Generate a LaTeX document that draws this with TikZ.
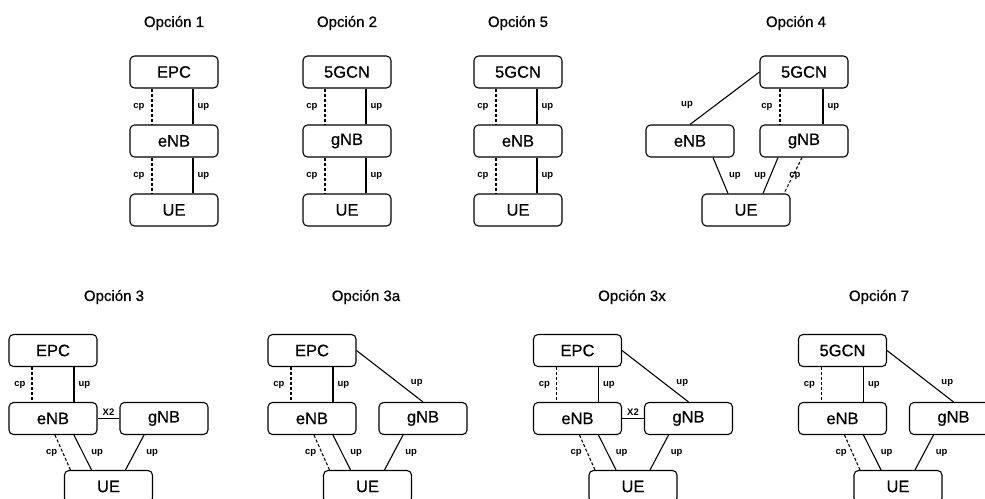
\documentclass[tikz,border=0pt]{standalone}
\usepackage{fontspec}
\setmainfont{Liberation Sans}
\newfontfamily\heavyfont[FakeBold=0.6]{Liberation Sans}
\begin{document}
\begin{tikzpicture}[x=1pt,y=-1pt,
  netbox/.style={draw, rounded corners=4.5pt, minimum width=88pt, minimum height=32pt,
    inner sep=0pt, line width=1.1pt, font=\heavyfont\fontsize{16.5}{18}\selectfont},
  ttl/.style={font=\heavyfont\fontsize{15}{17}\selectfont},
  lbl/.style={font=\bfseries\fontsize{9.5}{11}\selectfont, inner sep=1pt},
  link/.style={line width=1.1pt},
  cplink/.style={line width=1.1pt, dash pattern=on 3pt off 2pt}]
\useasboundingbox (0,0) rectangle (985,498);
\fill[white] (0,0) rectangle (985,498);
\clip (0,0) rectangle (985,498);

% ---------- upper row: stacked options ----------
\foreach \cx/\core/\ran/\ttxt/\k in {174/EPC/eNB/1/a, 347/5GCN/gNB/2/b, 518/5GCN/eNB/5/c}{
  \node[ttl] (t\k) at (\cx,23) {Opción \ttxt};
  \node[netbox] (core\k) at (\cx,72) {\core};
  \node[netbox] (ran\k) at (\cx,141) {\ran};
  \node[netbox] (ue\k) at (\cx,210) {UE};
  \draw[cplink] ([xshift=-22pt]core\k.south) -- node[lbl,left=6pt]{cp} ([xshift=-22pt]ran\k.north);
  \draw[link] ([xshift=19pt]core\k.south) -- node[lbl,right=3pt]{up} ([xshift=19pt]ran\k.north);
  \draw[cplink] ([xshift=-22pt]ran\k.south) -- node[lbl,left=6pt]{cp} ([xshift=-22pt]ue\k.north);
  \draw[link] ([xshift=19pt]ran\k.south) -- node[lbl,right=3pt]{up} ([xshift=19pt]ue\k.north);
}

% ---------- option 4 ----------
\node[ttl] (t4) at (796,23) {Opción 4};
\node[netbox] (core4) at (804,72) {5GCN};
\node[netbox] (enb4) at (690,141) {eNB};
\node[netbox] (gnb4) at (804,141) {gNB};
\node[netbox] (ue4) at (746,210) {UE};
\draw[link] (core4.west) -- node[lbl,pos=0.62,left=22pt]{up} (enb4.north);
\draw[cplink] ([xshift=-24pt]core4.south) -- node[lbl,left=6pt]{cp} ([xshift=-24pt]gnb4.north);
\draw[link] ([xshift=19pt]core4.south) -- node[lbl,right=3pt]{up} ([xshift=19pt]gnb4.north);
\draw[link] ([xshift=23pt]enb4.south) -- node[lbl,right=7pt]{up} ([xshift=-18pt]ue4.north);
\draw[link] ([xshift=-26pt]gnb4.south) -- node[lbl,left=3pt]{up} ([xshift=17pt]ue4.north);
\draw[cplink] ([xshift=-2pt]gnb4.south) -- node[lbl,xshift=2pt]{cp} ([xshift=38pt]ue4.north);

% ---------- lower row: dual connectivity options ----------
\foreach \cx/\tx/\core/\ttxt/\k in {53/114/EPC/3/d, 312/366/EPC/3a/e, 577.5/632/EPC/3x/f, 842.5/879/5GCN/7/g}{
  \node[ttl] (t\k) at (\tx,297) {Opción \ttxt};
  \node[netbox] (core\k) at (\cx,350.5) {\core};
  \node[netbox] (enb\k) at (\cx,418.5) {eNB};
  \node[netbox] (gnb\k) at (\cx+111,418.5) {gNB};
  \node[netbox] (ue\k) at (\cx+55.5,486.5) {UE};
  \draw[cplink] ([xshift=-21pt]core\k.south) -- node[lbl,left=5pt]{cp} ([xshift=-21pt]enb\k.north);
  \draw[link] ([xshift=21pt]core\k.south) -- node[lbl,right=3pt]{up} ([xshift=21pt]enb\k.north);
  \draw[cplink] ([xshift=2pt]enb\k.south) -- node[lbl,left=4pt]{cp} ([xshift=-38pt]ue\k.north);
  \draw[link] ([xshift=21pt]enb\k.south) -- node[lbl,right=7pt]{up} ([xshift=-17pt]ue\k.north);
  \draw[link] ([xshift=-20pt]gnb\k.south) -- node[lbl,right=10pt]{up} ([xshift=17pt]ue\k.north);
}

% X2 interfaces
\draw[link] (enbd.east) -- node[lbl,above=1pt]{X2} (gnbd.west);
\draw[link] (enbf.east) -- node[lbl,above=1pt]{X2} (gnbf.west);

% core to gNB user plane
\draw[link] (coree.east) -- node[lbl,pos=0.63,right=11pt]{up} (gnbe.north);
\draw[link] (coref.east) -- node[lbl,pos=0.63,right=11pt]{up} (gnbf.north);
\draw[link] (coreg.east) -- node[lbl,pos=0.63,right=11pt]{up} (gnbg.north);
\end{tikzpicture}
\end{document}
